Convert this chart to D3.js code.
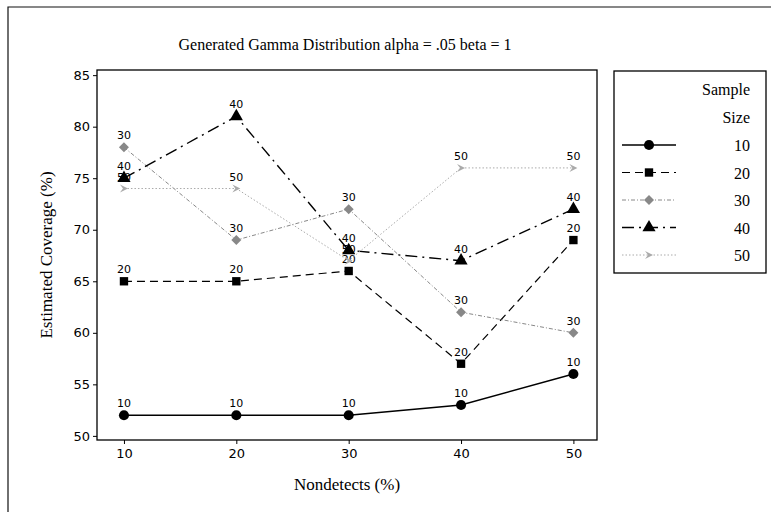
<!DOCTYPE html>
<html>
<head>
<meta charset="utf-8">
<title>Generated Gamma Distribution</title>
<script src="https://cdn.jsdelivr.net/npm/d3@7"></script>
<style>
  body { margin: 0; background: #fff; }
  svg { display: block; }
  .serif { font-family: 'Liberation Serif', 'DejaVu Serif', serif; }
  .sans { font-family: 'DejaVu Sans', 'Liberation Sans', sans-serif; }
</style>
</head>
<body>
<svg id="chart" width="771" height="512"></svg>
<script>
// data
var nondetects = [10, 20, 30, 40, 50];
var sizes = ["10", "20", "30", "40", "50"];
var n10 = [52, 52, 52, 53, 56];
var n20 = [65, 65, 66, 57, 69];
var n30 = [78, 69, 72, 62, 60];
var n40 = [75, 81, 68, 67, 72];
var n50 = [74, 74, 67, 76, 76];
var yTicks = [50, 55, 60, 65, 70, 75, 80, 85];

var series = [
  {name: "10", vals: n10, color: "#000", dash: null,        width: 1.4, mark: "circle"},
  {name: "20", vals: n20, color: "#000", dash: "8,5",       width: 1.2, mark: "square"},
  {name: "30", vals: n30, color: "#888", dash: "4,2,1,2",   width: 1,   mark: "diamond"},
  {name: "40", vals: n40, color: "#000", dash: "12,5,2,5",  width: 1.4, mark: "triangle"},
  {name: "50", vals: n50, color: "#aaa", dash: "1.5,2",     width: 1,   mark: "tri-right"}
];

var svg = d3.select("#chart");

// outer page frame
svg.append("path").attr("d", "M8,512 V7 H771").attr("fill", "none").attr("stroke", "#111").attr("stroke-width", 1.2);

var L = 97, T = 70, R = 597, B = 440;
var x = d3.scaleLinear().domain([7.6, 52.1]).range([L, R]);
var y = d3.scaleLinear().domain([49.6, 85.5]).range([B, T]);

svg.append("rect").attr("x", L).attr("y", T).attr("width", R - L).attr("height", B - T)
  .attr("fill", "none").attr("stroke", "#000").attr("stroke-width", 1.3);

var gy = svg.append("g").attr("transform", "translate(" + L + ",0)")
  .call(d3.axisLeft(y).tickValues(yTicks).tickSize(4).tickPadding(3));
var gx = svg.append("g").attr("transform", "translate(0," + B + ")")
  .call(d3.axisBottom(x).tickValues(nondetects).tickSize(4).tickPadding(5));
[gx, gy].forEach(function(g) {
  g.select(".domain").remove();
  g.selectAll("text").attr("class", "sans").attr("font-size", 13).attr("fill", "#000");
  g.selectAll("line").attr("stroke", "#000");
});

svg.append("text").attr("class", "serif").attr("x", 345).attr("y", 50)
  .attr("text-anchor", "middle").attr("font-size", 16).text("Generated Gamma Distribution alpha = .05 beta = 1");
svg.append("text").attr("class", "serif").attr("x", 347).attr("y", 490)
  .attr("text-anchor", "middle").attr("font-size", 17).text("Nondetects (%)");
svg.append("text").attr("class", "serif").attr("transform", "translate(52,255) rotate(-90)")
  .attr("text-anchor", "middle").attr("font-size", 17).text("Estimated Coverage (%)");

function symbolFor(m) {
  if (m === "circle") return d3.symbol(d3.symbolCircle, 80)();
  if (m === "square") return d3.symbol(d3.symbolSquare, 70)();
  if (m === "diamond") return "M0,-5 L5,0 L0,5 L-5,0 Z";
  if (m === "triangle") return d3.symbol(d3.symbolTriangle, 75)();
  return "M-4,-4 L4,0 L-4,4 L-1,0 Z";
}

var line = d3.line().x(function(d, i) { return x(nondetects[i]); }).y(function(d) { return y(d); });

series.forEach(function(s) {
  svg.append("path").datum(s.vals).attr("d", line)
    .attr("fill", "none").attr("stroke", s.color).attr("stroke-width", s.width)
    .attr("stroke-dasharray", s.dash);
  var g = svg.append("g");
  g.selectAll("path").data(s.vals).enter().append("path")
    .attr("transform", function(d, i) { return "translate(" + x(nondetects[i]) + "," + y(d) + ")"; })
    .attr("d", symbolFor(s.mark)).attr("fill", s.color);
  g.selectAll("text").data(s.vals).enter().append("text")
    .attr("class", "sans").attr("font-size", 11).attr("text-anchor", "middle")
    .attr("x", function(d, i) { return x(nondetects[i]); })
    .attr("y", function(d) { return y(d) - 8; })
    .text(s.name);
});

// legend
var lg = svg.append("g");
lg.append("rect").attr("x", 614).attr("y", 71).attr("width", 152).attr("height", 202)
  .attr("fill", "#fff").attr("stroke", "#000").attr("stroke-width", 1.3);
lg.append("text").attr("class", "serif").attr("x", 750).attr("y", 95).attr("text-anchor", "end")
  .attr("font-size", 16).text("Sample");
lg.append("text").attr("class", "serif").attr("x", 750).attr("y", 123).attr("text-anchor", "end")
  .attr("font-size", 16).text("Size");
series.forEach(function(s, i) {
  var yy = 145 + i * 27.5;
  lg.append("line").attr("x1", 622).attr("x2", 676).attr("y1", yy).attr("y2", yy)
    .attr("stroke", s.color).attr("stroke-width", s.width).attr("stroke-dasharray", s.dash);
  lg.append("path").attr("transform", "translate(649," + yy + ")").attr("d", symbolFor(s.mark)).attr("fill", s.color);
  lg.append("text").attr("class", "serif").attr("x", 750).attr("y", yy + 6).attr("text-anchor", "end")
    .attr("font-size", 16).text(sizes[i]);
});
</script>
</body>
</html>
